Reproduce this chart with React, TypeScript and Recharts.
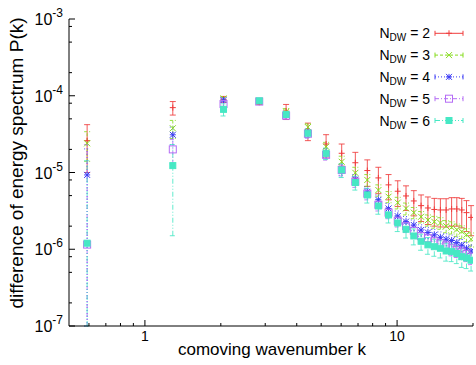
import { ScatterChart, Scatter, XAxis, YAxis, ErrorBar, Legend } from 'recharts';

const FONT = '"Liberation Sans", Arial, Helvetica, sans-serif';

// comoving wavenumber k (bin centres)
const K_VALUES = [0.59, 1.29, 2.05, 2.84, 3.63, 4.43, 5.23, 6.03, 6.83, 7.62, 8.43, 9.25, 10.06, 10.85, 11.65, 12.45, 13.25, 14.05, 14.85, 15.65, 16.45, 17.25, 18.05, 18.85, 19.65];

type Err = number | [number, number];

const P_NDW2 = [2.6e-5, 7.0e-5, 9.0e-5, 8.2e-5, 6.3e-5, 3.5e-5, 2.35e-5, 1.78e-5, 1.34e-5, 1.06e-5, 8.5e-6, 6.9e-6, 5.7e-6, 4.95e-6, 4.26e-6, 3.7e-6, 3.45e-6, 3.3e-6, 3.25e-6, 3.25e-6, 3.35e-6, 3.35e-6, 3.25e-6, 3.0e-6, 2.6e-6];
const ERR_NDW2: Err[] = [1.6e-5, 1.4e-5, 0.8e-5, 0.5e-5, 1.4e-5, 0.9e-5, 0.76e-5, 0.57e-5, 0.49e-5, 0.4e-5, 3.2e-6, 2.5e-6, 2.1e-6, 1.75e-6, 1.54e-6, 1.4e-6, 1.35e-6, 1.3e-6, 1.3e-6, 1.3e-6, 1.35e-6, 1.35e-6, 1.35e-6, 1.3e-6, 1.1e-6];

const P_NDW3 = [2.4e-5, 3.77e-5, 9.2e-5, 8.6e-5, 6.2e-5, 3.9e-5, 2.17e-5, 1.38e-5, 9.9e-6, 8.0e-6, 5.9e-6, 4.84e-6, 4.05e-6, 3.4e-6, 3.0e-6, 2.65e-6, 2.4e-6, 2.28e-6, 2.2e-6, 2.0e-6, 1.93e-6, 1.8e-6, 1.7e-6, 1.55e-6, 1.35e-6];
const ERR_NDW3: Err[] = [1.0e-5, 1.0e-5, 0.5e-5, 0.4e-5, 0.6e-5, 0.4e-5, 0.3e-5, 0.25e-5, 1.8e-6, 1.4e-6, 1.0e-6, 0.8e-6, 0.7e-6, 0.6e-6, 0.5e-6, 0.45e-6, 0.4e-6, 0.4e-6, 0.38e-6, 0.36e-6, 0.35e-6, 0.33e-6, 0.32e-6, 0.3e-6, 0.28e-6];

const P_NDW4 = [9.3e-6, 3.1e-5, 8.8e-5, 8.5e-5, 5.8e-5, 3.3e-5, 1.8e-5, 1.1e-5, 8.1e-6, 5.6e-6, 4.4e-6, 3.4e-6, 2.7e-6, 2.29e-6, 2.07e-6, 1.78e-6, 1.65e-6, 1.54e-6, 1.43e-6, 1.35e-6, 1.3e-6, 1.22e-6, 1.13e-6, 1.03e-6, 0.95e-6];
const ERR_NDW4: Err[] = [[9.2e-6, 1.1e-5], 0.8e-5, 0.5e-5, 0.4e-5, 0.5e-5, 0.4e-5, 0.25e-5, 0.18e-5, 1.3e-6, 0.9e-6, 0.7e-6, 0.55e-6, 0.45e-6, 0.38e-6, 0.33e-6, 0.3e-6, 0.28e-6, 0.27e-6, 0.25e-6, 0.24e-6, 0.23e-6, 0.22e-6, 0.21e-6, 0.2e-6, 0.19e-6];

const P_NDW5 = [1.15e-6, 2.0e-5, 7.8e-5, 8.4e-5, 5.5e-5, 3.2e-5, 1.7e-5, 1.08e-5, 7.6e-6, 5.3e-6, 3.8e-6, 3.0e-6, 2.35e-6, 2.0e-6, 1.74e-6, 1.48e-6, 1.39e-6, 1.27e-6, 1.2e-6, 1.12e-6, 1.03e-6, 0.98e-6, 0.93e-6, 0.87e-6, 0.8e-6];
const ERR_NDW5: Err[] = [[1.05e-6, 2.2e-5], 0.7e-5, 0.5e-5, 0.4e-5, 0.5e-5, 0.4e-5, 0.25e-5, 0.18e-5, 1.2e-6, 0.9e-6, 0.65e-6, 0.5e-6, 0.4e-6, 0.35e-6, 0.3e-6, 0.27e-6, 0.25e-6, 0.24e-6, 0.23e-6, 0.22e-6, 0.21e-6, 0.2e-6, 0.19e-6, 0.18e-6, 0.17e-6];

const P_NDW6 = [1.2e-6, 1.23e-5, 6.65e-5, 8.6e-5, 5.7e-5, 3.25e-5, 1.78e-5, 1.08e-5, 7.4e-6, 5.1e-6, 3.66e-6, 2.8e-6, 2.2e-6, 1.82e-6, 1.49e-6, 1.27e-6, 1.14e-6, 1.08e-6, 1.03e-6, 0.95e-6, 0.93e-6, 0.88e-6, 0.8e-6, 0.77e-6, 0.72e-6];
const ERR_NDW6: Err[] = [[1.1e-6, 1.3e-5], 1.08e-5, 1.2e-5, 0.4e-5, 0.5e-5, 0.4e-5, 0.3e-5, 0.22e-5, 1.5e-6, 1.1e-6, 0.8e-6, 0.6e-6, 0.5e-6, 0.42e-6, 0.35e-6, 0.3e-6, 0.28e-6, 0.27e-6, 0.26e-6, 0.25e-6, 0.24e-6, 0.23e-6, 0.22e-6, 0.21e-6, 0.2e-6];

const X_TICKS = [0.6, 0.7, 0.8, 0.9, 1, 2, 3, 4, 5, 6, 7, 8, 9, 10, 20];
const Y_TICKS = [1e-7, 2e-7, 5e-7, 8e-7, 1e-6, 2e-6, 5e-6, 8e-6, 1e-5, 2e-5, 5e-5, 8e-5, 1e-4, 2e-4, 5e-4, 8e-4, 1e-3];

type MarkerKind = 'plus' | 'cross' | 'star' | 'square' | 'filled';

const SERIES = [
  { label: '2', values: P_NDW2, errors: ERR_NDW2, color: '#f03c3c', marker: 'plus' as MarkerKind, dash: undefined },
  { label: '3', values: P_NDW3, errors: ERR_NDW3, color: '#86dc1e', marker: 'cross' as MarkerKind, dash: '3 2' },
  { label: '4', values: P_NDW4, errors: ERR_NDW4, color: '#3c3cf5', marker: 'star' as MarkerKind, dash: '1 2' },
  { label: '5', values: P_NDW5, errors: ERR_NDW5, color: '#b46cf5', marker: 'square' as MarkerKind, dash: '4 2 1 2' },
  { label: '6', values: P_NDW6, errors: ERR_NDW6, color: '#46e8c4', marker: 'filled' as MarkerKind, dash: '5 2 1 2 1 2' },
];

const isDecade = (v: number) => Math.abs(Math.log10(v) - Math.round(Math.log10(v))) < 1e-9;

const Marker = ({ kind, cx, cy, color }: { kind: MarkerKind; cx: number; cy: number; color: string }) => {
  const r = 3;
  const plus = (
    <>
      <line x1={cx - r} x2={cx + r} y1={cy} y2={cy} />
      <line x1={cx} x2={cx} y1={cy - r} y2={cy + r} />
    </>
  );
  const cross = (
    <>
      <line x1={cx - r} x2={cx + r} y1={cy - r} y2={cy + r} />
      <line x1={cx - r} x2={cx + r} y1={cy + r} y2={cy - r} />
    </>
  );
  if (kind === 'plus') return <g stroke={color}>{plus}</g>;
  if (kind === 'cross') return <g stroke={color}>{cross}</g>;
  if (kind === 'star') return <g stroke={color}>{plus}{cross}</g>;
  if (kind === 'square')
    return <rect x={cx - 3.5} y={cy - 3.5} width={7} height={7} fill="none" stroke={color} />;
  return <rect x={cx - 3} y={cy - 3} width={6} height={6} fill={color} stroke={color} />;
};

const XTick = (props: any) => {
  const { x, y, payload, top } = props;
  const major = isDecade(payload.value);
  const len = major ? 6 : 3;
  if (top) return <line x1={x} x2={x} y1={y} y2={y + len} stroke="#000" />;
  return (
    <g>
      <line x1={x} x2={x} y1={y} y2={y - len} stroke="#000" />
      {major && (
        <text x={x} y={y + 15} textAnchor="middle" fontSize={14} fontFamily={FONT} fill="#000">
          {payload.value}
        </text>
      )}
    </g>
  );
};

const YTick = (props: any) => {
  const { x, y, payload, right } = props;
  const major = isDecade(payload.value);
  const len = major ? 6 : 3;
  if (right) return <line x1={x} x2={x - len} y1={y} y2={y} stroke="#000" />;
  const exp = Math.round(Math.log10(payload.value));
  return (
    <g>
      <line x1={x} x2={x + len} y1={y} y2={y} stroke="#000" />
      {major && (
        <text x={x - 6} y={y + 6} textAnchor="end" fontSize={16} fontFamily={FONT} fill="#000">
          10
          <tspan dy={-8} fontSize={12}>{`-${Math.abs(exp)}`}</tspan>
        </text>
      )}
    </g>
  );
};

const LegendBox = () => (
  <svg width={116} height={115} style={{ display: 'block' }}>
    {SERIES.map((s, i) => {
      const cy = 13.3 + i * 21.8;
      return (
        <g key={s.label}>
          <text x={70} y={cy + 5} textAnchor="end" fontSize={14} fontFamily={FONT} fill="#000">
            N
            <tspan dy={3} fontSize={10}>DW</tspan>
            <tspan dy={-3}>{` = ${s.label}`}</tspan>
          </text>
          <g stroke={s.color} strokeDasharray={s.dash}>
            <line x1={75} x2={103} y1={cy} y2={cy} />
          </g>
          <line x1={75} x2={75} y1={cy - 2.5} y2={cy + 2.5} stroke={s.color} />
          <line x1={103} x2={103} y1={cy - 2.5} y2={cy + 2.5} stroke={s.color} />
          <Marker kind={s.marker} cx={89} cy={cy} color={s.color} />
        </g>
      );
    })}
  </svg>
);

export default function App() {
  return (
    <div style={{ position: 'absolute', left: 0, top: 0, background: '#fff' }}>
      <ScatterChart width={476} height={365} margin={{ top: 19, right: 3, bottom: 0, left: 0 }}>
        <XAxis
          dataKey="k"
          type="number"
          scale="log"
          domain={[0.5, 20]}
          allowDataOverflow
          ticks={X_TICKS}
          interval={0}
          height={39}
          tickSize={0}
          tickMargin={0}
          tickLine={false}
          axisLine={{ stroke: '#000' }}
          tick={<XTick />}
          label={() => (
            <text x={272} y={355} textAnchor="middle" fontSize={17} fontFamily={FONT} fill="#000">
              comoving wavenumber k
            </text>
          )}
        />
        <XAxis
          xAxisId="top"
          orientation="top"
          type="number"
          scale="log"
          domain={[0.5, 20]}
          allowDataOverflow
          ticks={X_TICKS}
          interval={0}
          height={0}
          tickSize={0}
          tickMargin={0}
          tickLine={false}
          axisLine={{ stroke: '#000' }}
          tick={<XTick top />}
        />
        <YAxis
          dataKey="v"
          type="number"
          scale="log"
          domain={[1e-7, 1e-3]}
          allowDataOverflow
          ticks={Y_TICKS}
          interval={0}
          width={69}
          tickSize={0}
          tickMargin={0}
          tickLine={false}
          axisLine={{ stroke: '#000' }}
          tick={<YTick />}
          label={() => (
            <text
              x={23}
              y={163}
              transform="rotate(-90 23 163)"
              textAnchor="middle"
              fontSize={19}
              fontFamily={FONT}
              fill="#000"
            >
              difference of energy spectrum P(k)
            </text>
          )}
        />
        <YAxis
          yAxisId="right"
          orientation="right"
          type="number"
          scale="log"
          domain={[1e-7, 1e-3]}
          allowDataOverflow
          ticks={Y_TICKS}
          interval={0}
          width={0}
          tickSize={0}
          tickMargin={0}
          tickLine={false}
          axisLine={{ stroke: '#000' }}
          tick={<YTick right />}
        />
        <Legend
          layout="horizontal"
          verticalAlign="middle"
          content={() => <LegendBox />}
          wrapperStyle={{ left: 360, top: 20, width: 116, height: 115 }}
        />
        {SERIES.map((s) => (
          <Scatter
            key={s.label}
            name={`N_DW = ${s.label}`}
            data={K_VALUES.map((k, i) => ({ k, v: s.values[i], err: s.errors[i] }))}
            isAnimationActive={false}
            shape={(p: any) => <Marker kind={s.marker} cx={p.cx} cy={p.cy} color={s.color} />}
          >
            <ErrorBar
              dataKey="err"
              direction="y"
              width={3}
              stroke={s.color}
              strokeWidth={1}
              strokeDasharray={s.dash}
              strokeOpacity={0.85}
              isAnimationActive={false}
            />
          </Scatter>
        ))}
      </ScatterChart>
    </div>
  );
}
